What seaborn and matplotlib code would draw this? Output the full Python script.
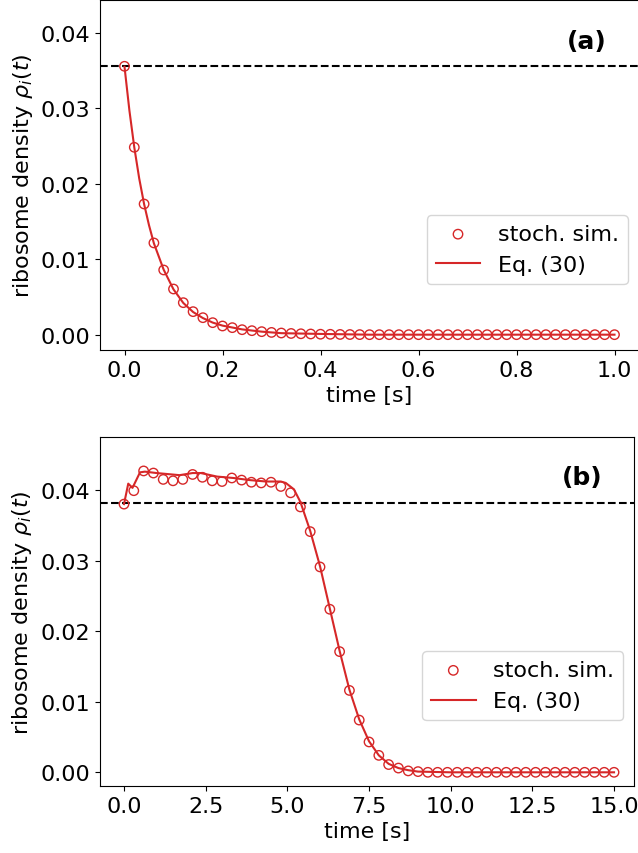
import numpy as np
import matplotlib
matplotlib.use("Agg")
import matplotlib.pyplot as plt
import seaborn as sns

RED = "#d62728"
plt.rcParams["font.size"] = 16
plt.rcParams["font.family"] = ["DejaVu Sans"]

# panel (a): fast relaxation
t_sim_a = np.round(np.arange(0, 51) * 0.02, 2)
rho_sim_a = [0.03555, 0.02482, 0.01731, 0.01215, 0.00857, 0.00605, 0.00424,
             0.00305, 0.00225, 0.00159, 0.00115, 0.00093, 0.00066, 0.00053,
             0.00040, 0.00030, 0.00022, 0.00016, 0.00012, 0.00009, 0.00006,
             0.00005, 0.00003, 0.00002, 0.00001] + [0.0] * 26
t_eq_a = [0, 0.01, 0.02, 0.03, 0.04, 0.05, 0.06, 0.08, 0.10, 0.12, 0.14, 0.16,
          0.18, 0.20, 0.24, 0.28, 0.32, 0.40, 0.50, 0.60, 0.80, 1.00]
rho_eq_a = [0.0355, 0.0297, 0.0248, 0.0207, 0.0173, 0.0145, 0.0121, 0.0086,
            0.0060, 0.0042, 0.0030, 0.0022, 0.0016, 0.0012, 0.0007, 0.0004,
            0.0002, 0.0001, 0.0, 0.0, 0.0, 0.0]
rho_ss_a = 0.03555

# panel (b): plateau then drop
t_sim_b = np.round(np.arange(0, 51) * 0.3, 1)
rho_sim_b = [0.0380, 0.0399, 0.0427, 0.0424, 0.0415, 0.0413, 0.0415, 0.0422,
             0.0418, 0.0413, 0.0412, 0.0417, 0.0414, 0.0411, 0.0410, 0.0411,
             0.0405, 0.0396, 0.0376, 0.0341, 0.0291, 0.0231, 0.0171, 0.0116,
             0.0074, 0.0043, 0.0024, 0.0011, 0.0006, 0.0002, 0.0001] + [0.0] * 20
t_eq_b = [0, 0.13, 0.26, 0.49, 0.64, 1.0, 1.7, 2.1, 2.35, 2.85, 3.35, 3.85,
          4.35, 4.8, 4.95, 5.2, 5.4, 5.7, 6.0, 6.3, 6.6, 6.9, 7.2, 7.5, 7.8,
          8.1, 8.4, 8.7, 9.0, 9.5, 10, 15]
rho_eq_b = [0.0380, 0.0409, 0.0403, 0.0425, 0.0426, 0.0424, 0.0421, 0.0424,
            0.0424, 0.0419, 0.0417, 0.0414, 0.0412, 0.0412, 0.0410, 0.0401,
            0.0383, 0.0342, 0.0292, 0.0232, 0.0172, 0.0117, 0.0075, 0.0044,
            0.0024, 0.0012, 0.0006, 0.0003, 0.0001, 0.00005, 0.0, 0.0]
rho_ss_b = 0.0381

fig = plt.figure(figsize=(6.38, 8.54), dpi=100)
ax_a = fig.add_axes([100 / 638, 503 / 854, 539 / 638, 350 / 854])
ax_b = fig.add_axes([99.5 / 638, 67 / 854, 534.8 / 638, 349.3 / 854])

panels = [
    (ax_a, t_sim_a, rho_sim_a, t_eq_a, rho_eq_a, rho_ss_a, "(a)"),
    (ax_b, t_sim_b, rho_sim_b, t_eq_b, rho_eq_b, rho_ss_b, "(b)"),
]

for ax, ts, rs, te, re, rss, tag in panels:
    ax.axhline(rss, color="black", linestyle="--", linewidth=1.5, zorder=1)
    sns.scatterplot(x=ts, y=rs, ax=ax, marker="o", s=46, facecolors="none",
                    edgecolor=RED, linewidth=1.0, label="stoch. sim.", zorder=3)
    sns.lineplot(x=te, y=re, ax=ax, color=RED, linewidth=1.5,
                 label="Eq. (30)", zorder=2)
    ax.set_xlabel("time [s]")
    ax.set_ylabel(r"ribosome density $\rho_i(t)$")
    ax.set_yticks([0.0, 0.01, 0.02, 0.03, 0.04])
    ax.text(0.94, 0.884, tag, transform=ax.transAxes, ha="right", va="center",
            fontweight="bold", fontsize=18)
    ax.legend(loc="center right", bbox_to_anchor=(1.0, 0.287), fontsize=16)

ax_a.set_xlim(-0.05, 1.05)
ax_a.set_ylim(-0.00203, 0.04433)
ax_a.set_xticks([0.0, 0.2, 0.4, 0.6, 0.8, 1.0])

ax_b.set_xlim(-0.75, 15.62)
ax_b.set_ylim(-0.00194, 0.04755)
ax_b.set_xticks([0.0, 2.5, 5.0, 7.5, 10.0, 12.5, 15.0])

fig.savefig("out.png", dpi=100)
